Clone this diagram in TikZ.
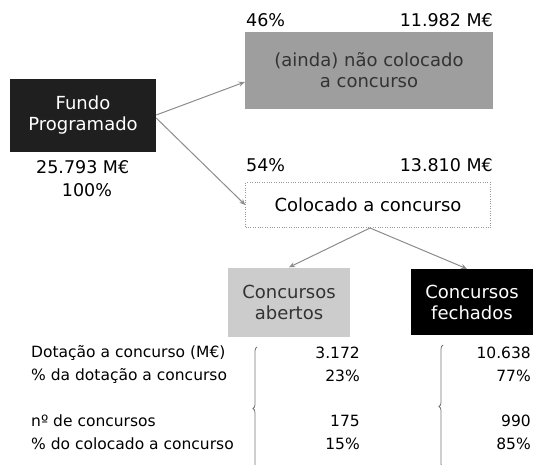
\documentclass[tikz,border=0pt]{standalone}
\usepackage{fontspec}
\setmainfont{DejaVu Sans}
\usetikzlibrary{arrows.meta,decorations.pathreplacing}
\begin{document}
\begin{tikzpicture}[x=1pt,y=-1pt,
  txt/.style={font=\fontsize{15.5}{17}\selectfont, inner sep=0pt},
  lbl/.style={font=\fontsize{17.5}{17}\selectfont, inner sep=0pt},
  boxtxt/.style={font=\fontsize{18}{21}\selectfont, align=center, inner sep=0pt},
  conn/.style={draw=black!45, line width=1pt, -{Stealth[length=6pt,width=5pt]}},
  brc/.style={draw=black!55, line width=0.8pt, decorate, decoration={brace, amplitude=4pt}}]
\useasboundingbox (0,0) rectangle (533,464);
% boxes
\node[boxtxt, fill=black!88, text=white, minimum width=146pt, minimum height=73pt] (fundo) at (83,115) {Fundo\\Programado};
\node[boxtxt, fill=black!38, text=black!80, minimum width=248pt, minimum height=77pt] (nao) at (369,70) {(ainda) não colocado\\a concurso};
\node[boxtxt, draw=black!40, dotted, fill=white, minimum width=245pt, minimum height=45pt] (col) at (368,205) {Colocado a concurso};
\node[boxtxt, fill=black!20, text=black!80, minimum width=122pt, minimum height=69pt] (ab) at (289,302) {Concursos\\abertos};
\node[boxtxt, fill=black, text=white, minimum width=123pt, minimum height=66pt] (fe) at (472,302) {Concursos\\fechados};
% labels
\node[lbl, anchor=west] (p46) at (246,20) {46\%};
\node[lbl, anchor=east] (v46) at (493,20) {11.982 M€};
\node[lbl, anchor=west] (p54) at (246,165) {54\%};
\node[lbl, anchor=east] (v54) at (493,165) {13.810 M€};
\node[lbl, anchor=west] (vtot) at (36,167) {25.793 M€};
\node[lbl] (ptot) at (87,190) {100\%};
% connectors
\draw[conn] (fundo.east) -- (nao.west |- 0,82);
\draw[conn] ([yshift=-3pt]fundo.east) -- (col.west);
\coordinate (cs) at (370,228);
\draw[conn] (cs) -- (ab.north);
\draw[conn] (cs) -- ([xshift=-5pt]fe.north);
% table
\node[txt, anchor=west] (r1) at (31,353) {Dotação a concurso (M€)};
\node[txt, anchor=west] (r2) at (31,376) {\% da dotação a concurso};
\node[txt, anchor=west] (r3) at (31,421) {nº de concursos};
\node[txt, anchor=west] (r4) at (31,444) {\% do colocado a concurso};
\node[txt, anchor=east] (a1) at (360,353) {3.172};
\node[txt, anchor=east] (a2) at (360,376) {23\%};
\node[txt, anchor=east] (a3) at (360,421) {175};
\node[txt, anchor=east] (a4) at (360,444) {15\%};
\node[txt, anchor=east] (b1) at (531,353) {10.638};
\node[txt, anchor=east] (b2) at (531,376) {77\%};
\node[txt, anchor=east] (b3) at (531,421) {990};
\node[txt, anchor=east] (b4) at (531,444) {85\%};
\draw[brc] (257,470) -- (257,347);
\draw[brc] (443,468) -- (443,345);
\end{tikzpicture}
\end{document}
